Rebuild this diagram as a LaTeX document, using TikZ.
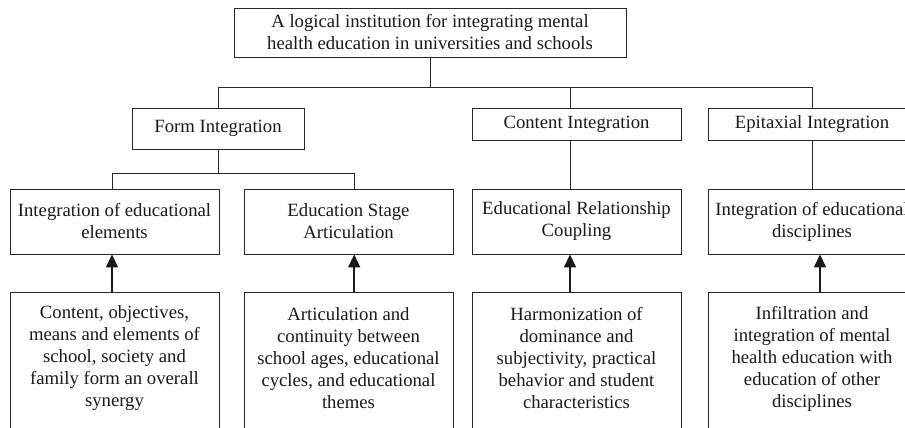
\documentclass[tikz,border=0pt]{standalone}
\usepackage{fontspec}
\setmainfont{Liberation Serif}
\usetikzlibrary{arrows.meta,calc}
\begin{document}
\begin{tikzpicture}[x=1pt,y=-1pt,
  box/.style={draw=black!85, line width=0.9pt, align=center, inner sep=1pt,
    font=\fontsize{18.7}{22}\selectfont, text=black!90},
  txt/.style={align=center, inner sep=0pt, font=\fontsize{18.7}{22}\selectfont, text=black!90},
  link/.style={draw=black!85, line width=0.9pt},
  up/.style={draw=black!90, line width=1.5pt, -{Triangle[width=12pt,length=13pt]}}]
\useasboundingbox (0,0) rectangle (905,428);
\clip (0,0) rectangle (905,428);

% level 1
\node[box, minimum width=392pt, minimum height=49pt] (top) at (430,32.5)
  {A logical institution for integrating mental\\health education in universities and schools};

% level 2
\node[box, minimum width=172pt, minimum height=41pt] (form) at (218,128.5) {Form Integration};
\node[box, minimum width=209pt, minimum height=32pt] (cont) at (576.5,124) {Content Integration};
\node[box, minimum width=208pt, minimum height=32pt] (epit) at (812,124) {Epitaxial Integration};

% level 3
\node[box, minimum width=209pt, minimum height=65pt] (elem) at (114.5,221.5) {Integration of educational\\elements};
\node[box, minimum width=209pt, minimum height=65pt] (stage) at (348.5,221.5) {Education Stage\\Articulation};
\node[box, minimum width=209pt, minimum height=65pt] (coup) at (576.5,221.5) {Educational Relationship\\Coupling};
\node[box, minimum width=208pt, minimum height=65pt] (disc) at (812,221.5) {Integration of educational\\disciplines};

% level 4 boxes (cut by the picture's lower edge)
\node[box, minimum width=209pt, minimum height=170pt, anchor=north] (elemB) at (114.5,291.7) {};
\node[box, minimum width=209pt, minimum height=170pt, anchor=north] (stageB) at (348.5,291.7) {};
\node[box, minimum width=209pt, minimum height=170pt, anchor=north] (coupB) at (576.5,291.7) {};
\node[box, minimum width=208pt, minimum height=170pt, anchor=north] (discB) at (812,291.7) {};

\node[txt] (elemT) at (114.5,358.5) {Content, objectives,\\means and elements of\\school, society and\\family form an overall\\synergy};
\node[txt] (stageT) at (348.5,358.5) {Articulation and\\continuity between\\school ages, educational\\cycles, and educational\\themes};
\node[txt] (coupT) at (576.5,358.5) {Harmonization of\\dominance and\\subjectivity, practical\\behavior and student\\characteristics};
\node[txt] (discT) at (812,358.5) {Infiltration and\\integration of mental\\health education with\\education of other\\disciplines};

% tree connectors
\draw[link] (top.south) -- ++(0,30) coordinate (j1);
\draw[link] (form.north) |- (epit.north |- j1) -- (epit.north);
\draw[link] ([xshift=-5.8pt]cont.north) -- ([xshift=-5.8pt]cont.north |- j1);
\draw[link] (form.south) -- ++(0,24) coordinate (j2);
\draw[link] ([xshift=-2.5pt]elem.north) |- ([xshift=5.7pt]stage.north |- j2) -- ([xshift=5.7pt]stage.north);
\draw[link] ([xshift=-5.8pt]cont.south) -- ([xshift=-5.8pt]coup.north);
\draw[link] (epit.south) -- (disc.north);

% arrows
\draw[up] ([xshift=-2.5pt]elemB.north) -- ([xshift=-2.5pt]elem.south);
\draw[up] ([xshift=5.7pt]stageB.north) -- ([xshift=5.7pt]stage.south);
\draw[up] ([xshift=-6.5pt]coupB.north) -- ([xshift=-6.5pt]coup.south);
\draw[up] ([xshift=8pt]discB.north) -- ([xshift=8pt]disc.south);
\end{tikzpicture}
\end{document}
